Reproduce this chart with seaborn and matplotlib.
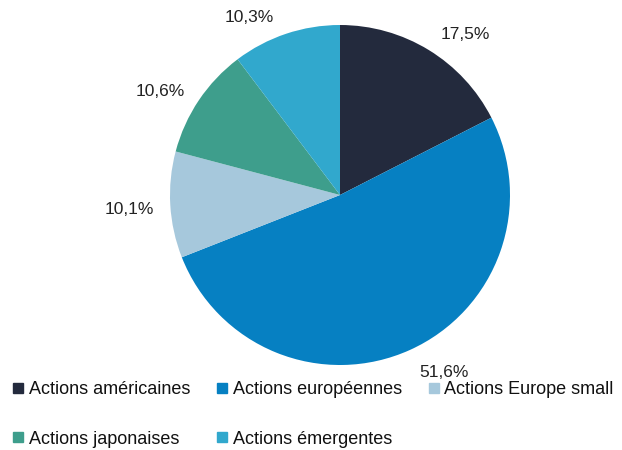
import numpy as np
import matplotlib
matplotlib.use("Agg")
import matplotlib.pyplot as plt
from matplotlib.lines import Line2D
import seaborn as sns

categories = ["Actions américaines", "Actions européennes", "Actions Europe small",
              "Actions japonaises", "Actions émergentes"]
values = [17.5, 51.6, 10.1, 10.6, 10.3]
value_labels = ["17,5%", "51,6%", "10,1%", "10,6%", "10,3%"]
colors = ["#232a3d", "#0680c2", "#a6c8dc", "#3e9e8c", "#31a8cd"]

# label placement per slice: radial distance and angle nudge (degrees)
label_dist = [1.20, 1.21, 1.245, 1.22, 1.17]
label_nudge = [-6.5, 6, 0.5, 4, 8.5]

sns.set_theme(style="white")
plt.rcParams["font.family"] = ["Liberation Sans", "DejaVu Sans"]

fig = plt.figure(figsize=(6.22, 4.5), dpi=100)
ax = fig.add_axes([170 / 622, 1 - 365 / 450, 340 / 622, 340 / 450])
wedges, _ = ax.pie(values, colors=colors, startangle=90, counterclock=False,
                   radius=1, wedgeprops=dict(linewidth=0))
ax.set_xlim(-1, 1)
ax.set_ylim(-1, 1)
ax.set_aspect("auto")

for w, lab, d, n in zip(wedges, value_labels, label_dist, label_nudge):
    ang = np.deg2rad((w.theta1 + w.theta2) / 2 + n)
    ax.text(d * np.cos(ang), d * np.sin(ang), lab, ha="center", va="center",
            fontsize=12.5, color="#222222")

handles = [Line2D([], [], marker="s", linestyle="", markersize=6.5, color=c)
           for c in colors]
order = [0, 3, 1, 4, 2]
leg = fig.legend([handles[i] for i in order], [categories[i] for i in order],
                 ncol=3, loc="upper left", bbox_to_anchor=(0.022, 1 - 381 / 450),
                 frameon=False, fontsize=13, handlelength=0.5, handletextpad=0.35,
                 columnspacing=1.5, labelspacing=1.8, borderaxespad=0,
                 borderpad=0)
for t in leg.get_texts():
    t.set_color("#111111")

fig.savefig("out.png", dpi=100)
